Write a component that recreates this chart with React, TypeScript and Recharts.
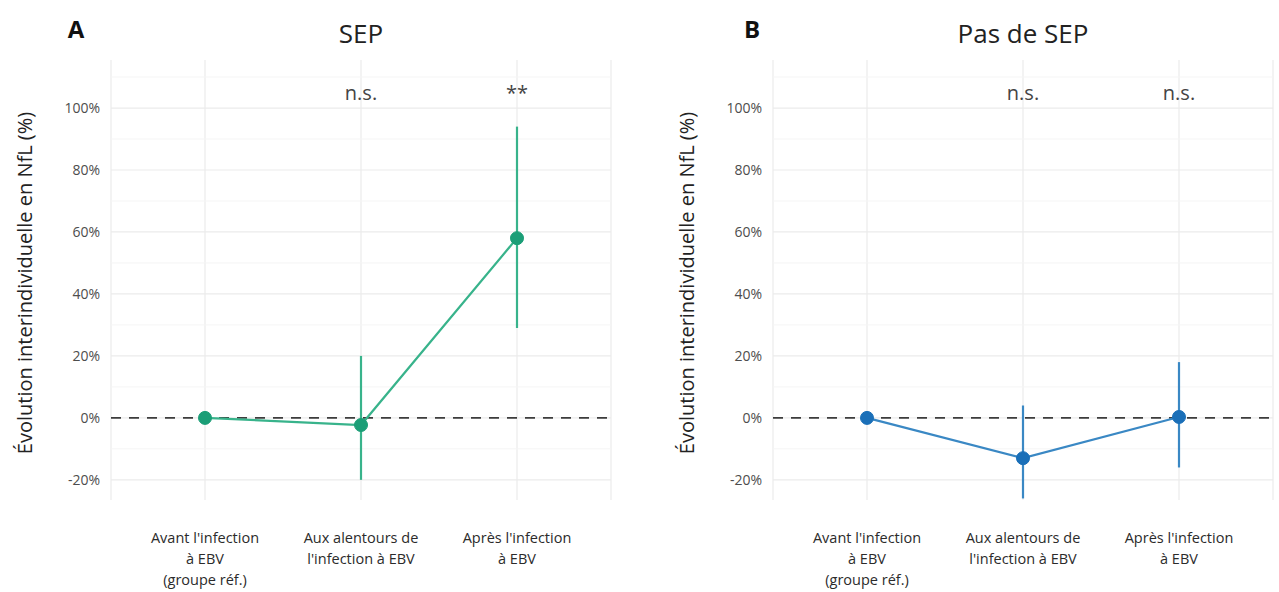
import { ComposedChart, Line, ErrorBar, XAxis, YAxis, CartesianGrid, ReferenceLine, ReferenceDot } from 'recharts';

const periodes = ["Avant l'infection\nà EBV\n(groupe réf.)", "Aux alentours de\nl'infection à EBV", "Après l'infection\nà EBV"];

// SEP (panneau A)
const sepValeurs = [0, -2.3, 58];
const sepBas = [0, -20, 29];
const sepHaut = [0, 20, 94];
const sepSignif = ['', 'n.s.', '**'];

// Pas de SEP (panneau B)
const pasSepValeurs = [0, -13, 0.3];
const pasSepBas = [0, -26, -16];
const pasSepHaut = [0, 4, 18];
const pasSepSignif = ['', 'n.s.', 'n.s.'];

const yTicks = [-20, 0, 20, 40, 60, 80, 100];
const yMinor = [-10, 10, 30, 50, 70, 90, 110];
const signifY = 104.8;

const FONT = '"Open Sans", "Noto Sans", sans-serif';

function TickPeriode({ x, y, payload }: any) {
  const lignes = String(payload.value).split('\n');
  return (
    <text x={x} y={y} textAnchor="middle" fontSize={14.5} fill="#2b2b2b" fontFamily={FONT}>
      {lignes.map((l, i) => (
        <tspan key={i} x={x} dy={i === 0 ? 43 : 21}>{l}</tspan>
      ))}
    </text>
  );
}

interface PanelProps {
  lettre: string;
  lettreX: number;
  titre: string;
  valeurs: number[];
  bas: number[];
  haut: number[];
  signif: string[];
  couleurPoint: string;
  couleurLigne: string;
  left: number;
  width: number;
  axeLargeur: number;
}

function Panel({ lettre, lettreX, titre, valeurs, bas, haut, signif, couleurPoint, couleurLigne, left, width, axeLargeur }: PanelProps) {
  const data = periodes.map((p, i) => ({
    periode: p,
    valeur: valeurs[i],
    err: [valeurs[i] - bas[i], haut[i] - valeurs[i]],
  }));
  const plotCentre = axeLargeur + 250;

  return (
    <div style={{ position: 'absolute', left, top: 0, width, height: 592 }}>
      <div style={{ position: 'absolute', left: lettreX - 50, width: 100, textAlign: 'center', top: 12, fontFamily: FONT, fontWeight: 700, fontSize: 24, color: '#111' }}>{lettre}</div>
      <div style={{ position: 'absolute', left: plotCentre - 150, width: 300, textAlign: 'center', top: 15, fontFamily: FONT, fontSize: 26, color: '#222' }}>{titre}</div>
      <ComposedChart width={width} height={592} data={data} margin={{ top: 60, right: width - axeLargeur - 500, bottom: 62, left: 0 }}>
        <CartesianGrid stroke="#ebebeb" strokeWidth={1.2} horizontalValues={yTicks} />
        {yMinor.map(v => (
          <ReferenceLine key={v} y={v} stroke="#f5f5f5" strokeWidth={1} />
        ))}
        <XAxis dataKey="periode" height={30} axisLine={false} tickLine={false} tickSize={0} tickMargin={0} padding={{ left: 94, right: 94 }} tick={<TickPeriode />} interval={0} />
        <YAxis
          type="number"
          domain={[-26.5, 115.5]}
          ticks={yTicks}
          width={axeLargeur}
          axisLine={false}
          tickLine={false}
          tickSize={0}
          tickMargin={11}
          tickFormatter={(v: number) => `${v}%`}
          tick={{ fontSize: 14, fill: '#4d4d4d', fontFamily: FONT }}
          label={({ viewBox }: any) => {
            const cx = viewBox.x + viewBox.width - 87;
            const cy = viewBox.y + viewBox.height / 2 + 3;
            return (
              <text x={cx} y={cy} transform={`rotate(-90, ${cx}, ${cy})`} textAnchor="middle" dominantBaseline="central" fontSize={20} fill="#222" fontFamily={FONT}>
                Évolution interindividuelle en NfL (%)
              </text>
            );
          }}
        />
        <ReferenceLine y={0} stroke="#3d3d3d" strokeWidth={1.8} strokeDasharray="10 8" />
        <Line
          dataKey="valeur"
          stroke={couleurLigne}
          strokeWidth={2.2}
          dot={{ r: 6.5, fill: couleurPoint, stroke: couleurPoint, strokeWidth: 1 }}
          activeDot={false}
          isAnimationActive={false}
        >
          <ErrorBar dataKey="err" direction="y" width={0} stroke={couleurLigne} strokeWidth={2.2} />
        </Line>
        {periodes.map((p, i) =>
          signif[i] ? (
            <ReferenceDot
              key={p}
              x={p}
              y={signifY}
              r={0}
              fill="none"
              stroke="none"
              label={{ value: signif[i], position: 'center', fontSize: 20, fill: '#444', fontFamily: FONT }}
            />
          ) : null
        )}
      </ComposedChart>
    </div>
  );
}

export default function App() {
  return (
    <div style={{ position: 'absolute', left: 0, top: 0, width: 1279, height: 592, background: '#fff' }}>
      <Panel
        lettre="A"
        lettreX={76}
        titre="SEP"
        valeurs={sepValeurs}
        bas={sepBas}
        haut={sepHaut}
        signif={sepSignif}
        couleurPoint="#1b9e77"
        couleurLigne="#38b38b"
        left={0}
        width={640}
        axeLargeur={111}
      />
      <Panel
        lettre="B"
        lettreX={112}
        titre="Pas de SEP"
        valeurs={pasSepValeurs}
        bas={pasSepBas}
        haut={pasSepHaut}
        signif={pasSepSignif}
        couleurPoint="#1a6fb8"
        couleurLigne="#3a88c4"
        left={640}
        width={639}
        axeLargeur={133}
      />
    </div>
  );
}
